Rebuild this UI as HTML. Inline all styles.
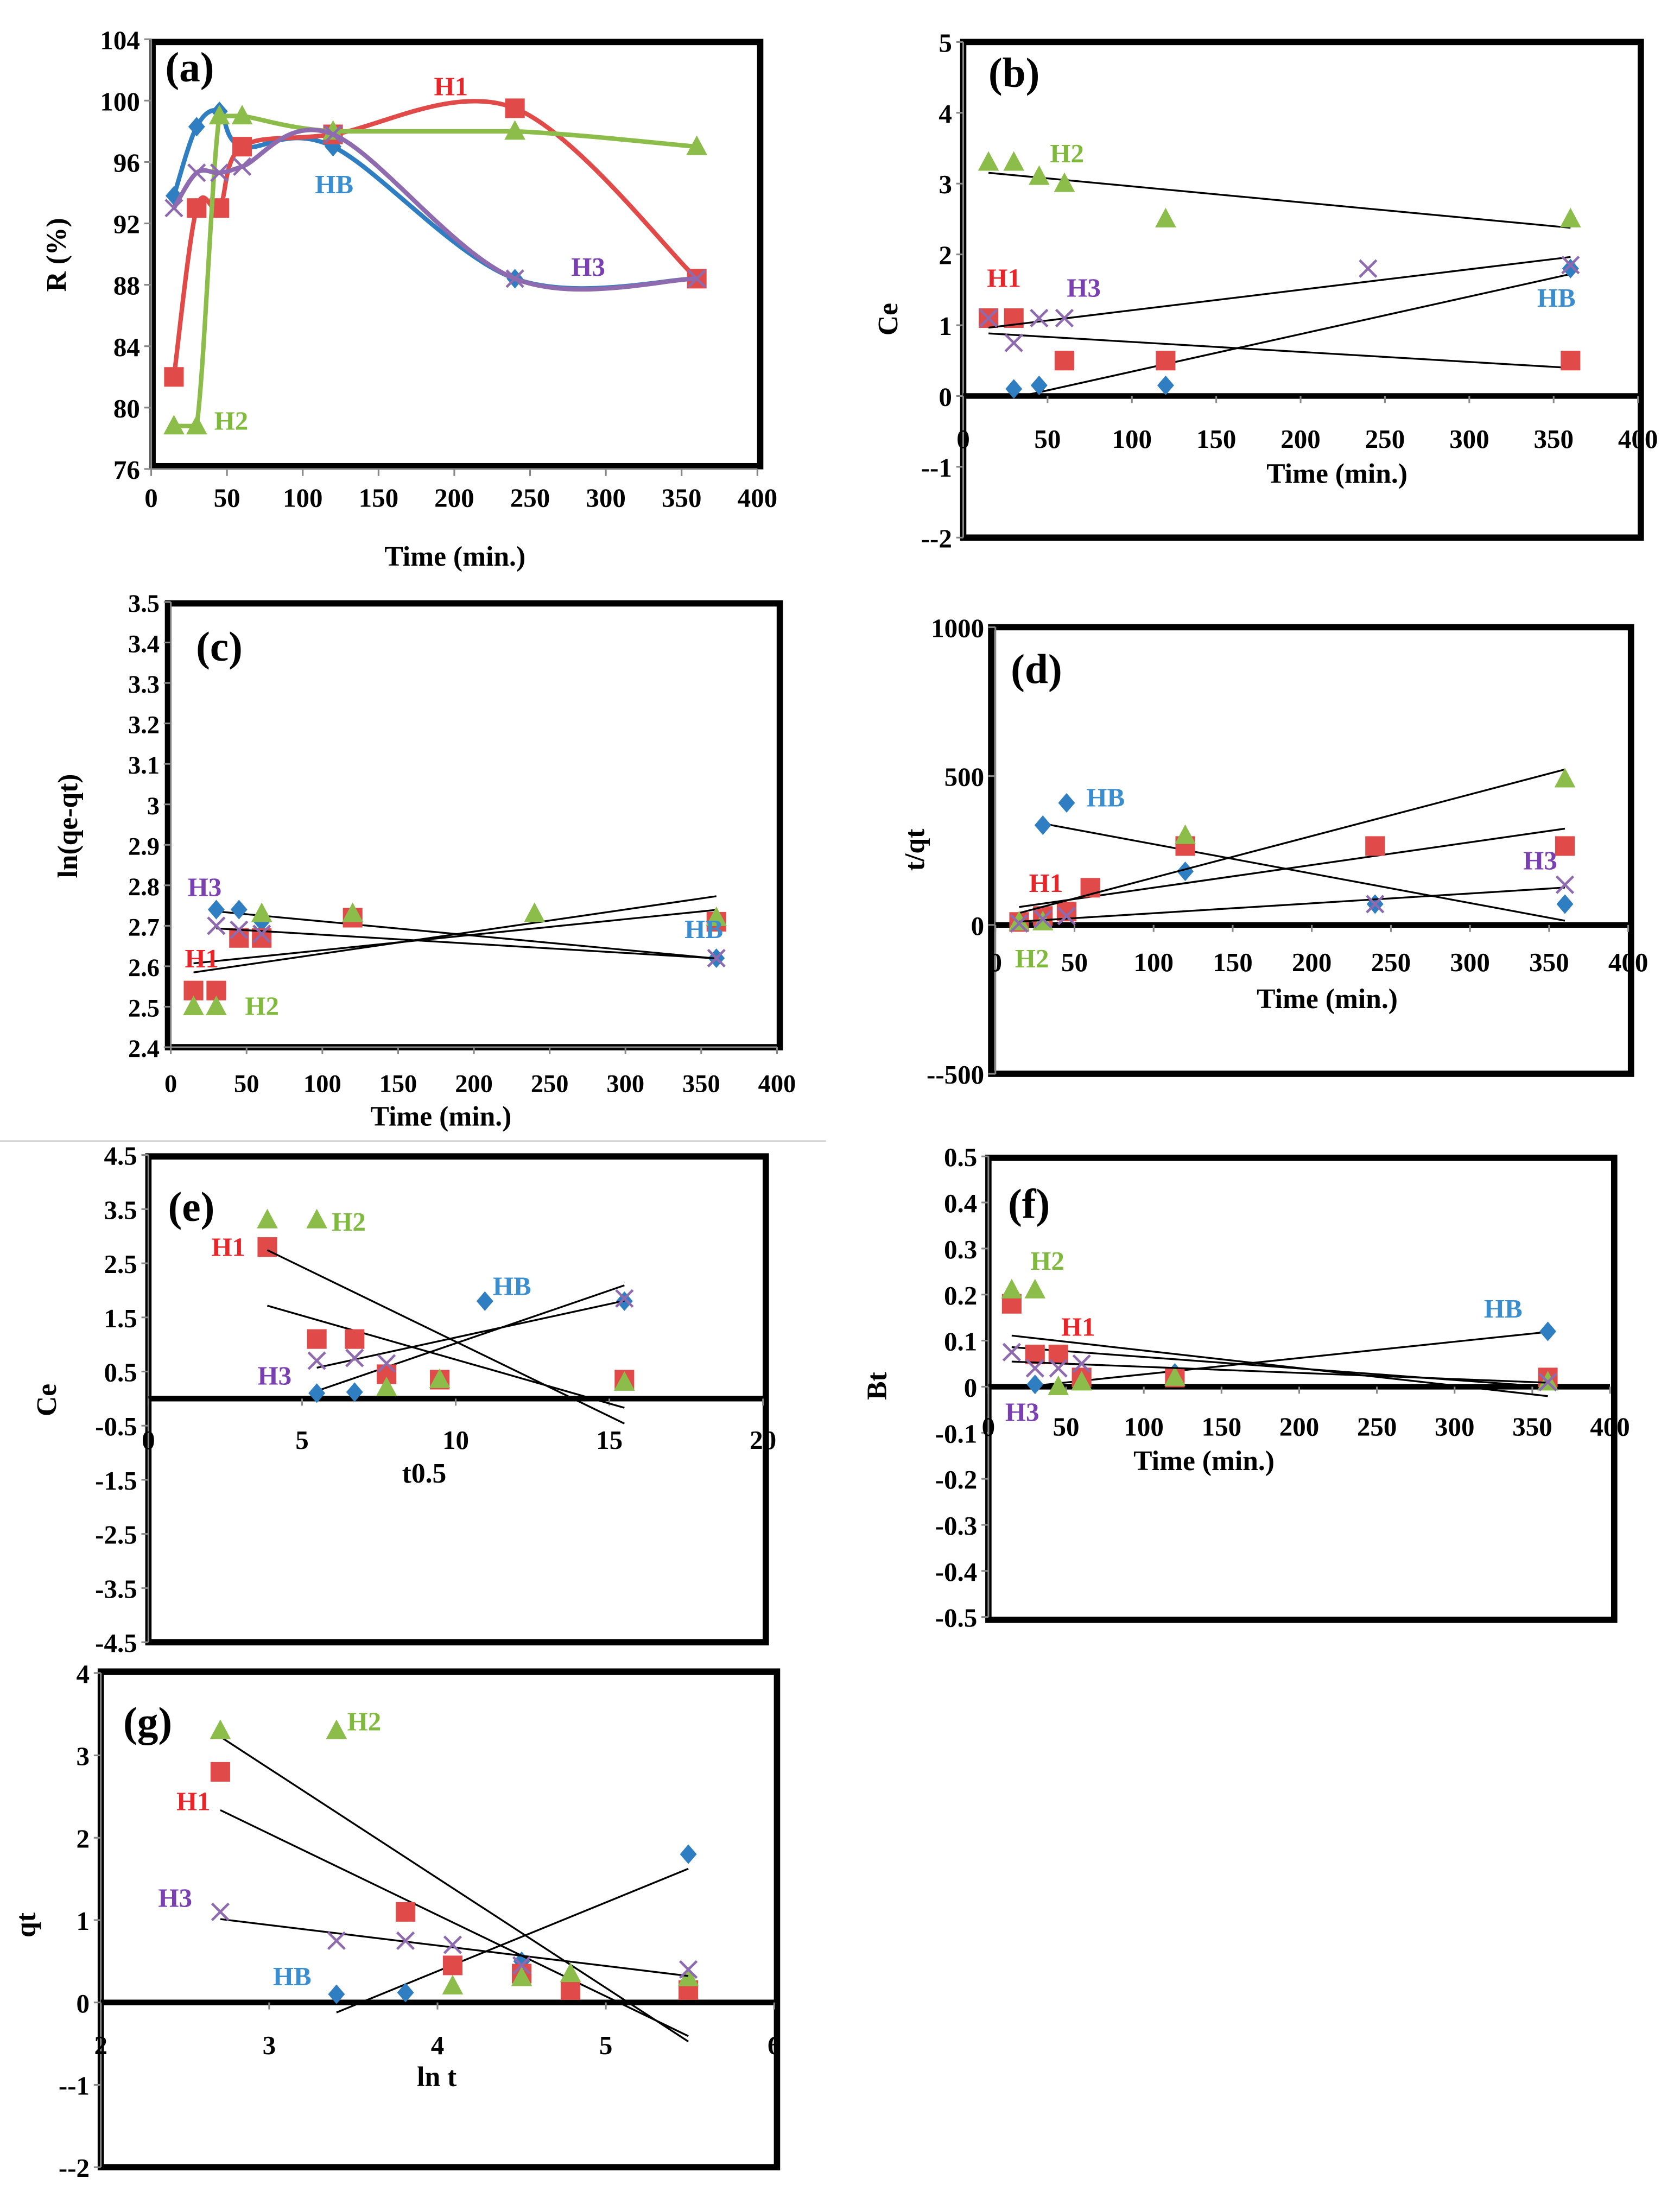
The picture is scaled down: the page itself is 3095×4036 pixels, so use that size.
<!DOCTYPE html>
<html><head><meta charset="utf-8"><style>
html,body{margin:0;padding:0;background:#fff}
svg{display:block}
text{font-family:"Liberation Serif",serif;font-weight:bold}
</style></head><body>
<svg id="s" xmlns="http://www.w3.org/2000/svg" width="3095" height="4036" viewBox="0 0 1200 1565" preserveAspectRatio="none">
<rect width="1200" height="1565" fill="#fff"/>
<line x1="0" y1="815" x2="590" y2="815" stroke="#ccc" stroke-width="1"/>
</svg>
<script>
// ---- data ----
const timeA=[15,30,45,60,120,240,360];
const aHB=[[15,93.8],[30,98.3],[45,99.3],[60,97],[120,97],[240,88.4],[360,88.4]];
const aH1=[[15,82],[30,93],[45,93],[60,97],[120,97.8],[240,99.5],[360,88.4]];
const aH2=[[15,78.8],[30,78.8],[45,99],[60,99],[120,98],[240,98],[360,97]];
const aH3=[[15,93],[30,95.3],[45,95.3],[60,95.7],[120,97.8],[240,88.4],[360,88.4]];
const bH2=[[15,3.3],[30,3.3],[45,3.1],[60,3.0],[120,2.5],[360,2.5]];
const bH1=[[15,1.1],[30,1.1],[60,0.5],[120,0.5],[360,0.5]];
const bHB=[[30,0.1],[45,0.15],[120,0.15],[360,1.8]];
const bH3=[[15,1.1],[30,0.75],[45,1.1],[60,1.1],[240,1.8],[360,1.85]];
const cHB=[[30,2.74],[45,2.74],[60,2.71],[360,2.62]];
const cH3=[[30,2.70],[45,2.69],[60,2.68],[360,2.62]];
const cH1=[[15,2.54],[30,2.54],[45,2.67],[60,2.67],[120,2.72],[360,2.71]];
const cH2=[[15,2.50],[30,2.50],[60,2.73],[120,2.73],[240,2.73],[360,2.72]];
const dHB=[[30,335],[45,410],[120,180],[240,70],[360,70]];
const dH1=[[15,10],[30,30],[45,45],[60,125],[120,265],[240,265],[360,265]];
const dH2=[[15,10],[30,10],[120,300],[360,490]];
const dH3=[[15,5],[30,20],[45,30],[240,70],[360,135]];
const eH2=[[3.87,3.3],[5.48,3.3],[7.75,0.2],[9.48,0.35],[15.49,0.3]];
const eH1=[[3.87,2.8],[5.48,1.1],[6.71,1.1],[7.75,0.45],[9.48,0.35],[15.49,0.35]];
const eHB=[[5.48,0.1],[6.71,0.12],[10.95,1.8],[15.49,1.8]];
const eH3=[[5.48,0.7],[6.71,0.75],[7.75,0.65],[15.49,1.85]];
const fH2=[[15,0.21],[30,0.21],[45,0.0],[60,0.01],[120,0.02],[360,0.01]];
const fH1=[[15,0.18],[30,0.07],[45,0.07],[60,0.02],[120,0.02],[360,0.02]];
const fHB=[[30,0.005],[120,0.03],[360,0.12]];
const fH3=[[15,0.075],[30,0.04],[45,0.04],[60,0.05],[360,0.01]];
const gH2=[[2.71,3.3],[3.4,3.3],[4.09,0.2],[4.5,0.3],[4.79,0.35],[5.49,0.3]];
const gH1=[[2.71,2.8],[3.81,1.1],[4.09,0.45],[4.5,0.35],[4.79,0.15],[5.49,0.15]];
const gHB=[[3.4,0.1],[3.81,0.12],[4.5,0.5],[5.49,1.8]];
const gH3=[[2.71,1.1],[3.4,0.75],[3.81,0.75],[4.09,0.7],[4.5,0.45],[5.49,0.4]];

const C={HB:'#2f7ec1',H1:'#e04a48',H2:'#8cbd4a',H3:'#8e6aaf'};
const L={HB:'#3a8ed0',H1:'#e8262a',H2:'#7fba3c',H3:'#7a3fb0'};
const S=document.getElementById('s');
const NS='http://www.w3.org/2000/svg';
function mk(tag,at,parent){const e=document.createElementNS(NS,tag);for(const k in at)e.setAttribute(k,at[k]);(parent||S).appendChild(e);return e;}
function txt(x,y,s,size,fill,anchor,rot){const t=mk('text',{x:x,y:y,'font-size':size,fill:fill||'#000','text-anchor':anchor||'middle'});if(rot)t.setAttribute('transform','rotate(-90 '+x+' '+y+')');t.textContent=s;return t;}
function marker(g,x,y,k){
  let e;
  if(k==='HB'){e=mk('polygon',{points:`${x},${y-7} ${x+6},${y} ${x},${y+7} ${x-6},${y}`,fill:C.HB},g);}
  else if(k==='H1'){e=mk('rect',{x:x-7,y:y-7,width:14,height:14,fill:C.H1},g);}
  else if(k==='H2'){e=mk('polygon',{points:`${x},${y-8} ${x+7.5},${y+6} ${x-7.5},${y+6}`,fill:C.H2},g);}
  else {e=mk('path',{d:`M${x-6} ${y-6}L${x+6} ${y+6}M${x+6} ${y-6}L${x-6} ${y+6}`,stroke:C.H3,'stroke-width':1.8,fill:'none'},g);}
  
  
}
function reg(d){const n=d.length;let sx=0,sy=0,sxx=0,sxy=0;d.forEach(p=>{sx+=p[0];sy+=p[1];sxx+=p[0]*p[0];sxy+=p[0]*p[1];});const b=(n*sxy-sx*sy)/(n*sxx-sx*sx);return [b,(sy-b*sx)/n];}
function smooth(pts,clamp){let d=`M${pts[0][0]} ${pts[0][1]}`;for(let i=0;i<pts.length-1;i++){const p0=pts[i-1]||pts[i],p1=pts[i],p2=pts[i+1],p3=pts[i+2]||p2;let c1=[p1[0]+(p2[0]-p0[0])/6,p1[1]+(p2[1]-p0[1])/6],c2=[p2[0]-(p3[0]-p1[0])/6,p2[1]-(p3[1]-p1[1])/6];
  if(clamp){const lo=Math.min(p1[1],p2[1]),hi=Math.max(p1[1],p2[1]);c1[1]=Math.max(lo,Math.min(hi,c1[1]));c2[1]=Math.max(lo,Math.min(hi,c2[1]));}
  d+=`C${c1[0]} ${c1[1]} ${c2[0]} ${c2[1]} ${p2[0]} ${p2[1]}`;}return d;}

function panel(o){
  const g=mk('g',{});
  
  
  const X=v=>o.x0+(v-o.xmin)/(o.xmax-o.xmin)*(o.x1-o.x0);
  const Y=v=>o.y1-(v-o.ymin)/(o.ymax-o.ymin)*(o.y1-o.y0);
  const fr=mk('rect',{x:o.fx0,y:o.fy0,width:o.fx1-o.fx0,height:o.fy1-o.fy0,fill:'none',stroke:'#000','stroke-width':4.5},g);
  
  mk('line',{x1:o.x0,y1:o.y0,x2:o.x0,y2:o.y1,stroke:'#888','stroke-width':1.2},g);
  o.yt.forEach(v=>{mk('line',{x1:o.x0-5,y1:Y(v),x2:o.x0,y2:Y(v),stroke:'#888','stroke-width':1.2},g);
    const t=txt(o.x0-8,Y(v)+7,o.yfmt?o.yfmt(v):String(v),o.fs||19,'#000','end',false);g.appendChild(t);});
  const ay=o.axisAt0?Y(0):o.y1;
  mk('line',{x1:o.x0,y1:ay,x2:o.x1,y2:ay,stroke:o.axisAt0?'#000':'#888','stroke-width':o.axisAt0?4:1.2},g);
  o.xt.forEach(v=>{mk('line',{x1:X(v),y1:ay,x2:X(v),y2:ay+5,stroke:'#888','stroke-width':1.2},g);
    const t=txt(X(v),ay+o.xlo,String(v),o.fs||19,'#000','middle',false);g.appendChild(t);});
  const xt=txt(o.xtx,o.xty,o.xtitle,20,'#000','middle');g.appendChild(xt);
  const yt=txt(o.ytx,o.yty,o.ytitle,20,'#000','middle',true);g.appendChild(yt);
  const pl=txt(o.plx,o.ply,o.label,30,'#000','start');g.appendChild(pl);
  ['HB','H1','H2','H3'].forEach(k=>{
    const d=o.data[k];
    if(o.curve){const p=mk('path',{d:smooth(d.map(q=>[X(q[0]),Y(q[1])]),k==='H2'),stroke:C[k],'stroke-width':3.2,fill:'none'},g);}
    else {const [b,a]=reg(d);const xa=d[0][0],xb=d[d.length-1][0];const l=mk('line',{x1:X(xa),y1:Y(a+b*xa),x2:X(xb),y2:Y(a+b*xb),stroke:'#000','stroke-width':1.3},g);}
    d.forEach(q=>marker(g,X(q[0]),Y(q[1]),k));
  });
  o.sl.forEach(s=>{const t=txt(s[1],s[2],s[0],19,L[s[0]],'start');g.appendChild(t);});
}
const rng=(a,b,s)=>{const r=[];for(let v=a;v<=b+1e-9;v+=s)r.push(+v.toFixed(2));return r;};

panel({id:'a',fx0:109,fy0:30,fx1:543,fy1:333,x0:108,x1:541,y0:28,y1:335,xmin:0,xmax:400,ymin:76,ymax:104,yt:rng(76,104,4),xt:rng(0,400,50),xlo:27,xtitle:'Time (min.)',xtx:325,xty:404,ytitle:'R (%)',ytx:47,yty:182,label:'(a)',plx:118,ply:58,curve:true,data:{HB:aHB,H1:aH1,H2:aH2,H3:aH3},sl:[['H1',310,68],['HB',225,138],['H3',408,197],['H2',153,307]]});
panel({id:'b',fx0:688,fy0:30,fx1:1172,fy1:384,x0:688,x1:1170,y0:30,y1:384,xmin:0,xmax:400,ymin:-2,ymax:5,yt:rng(-2,5,1),yfmt:v=>v<0?'-'+v:String(v),xt:rng(0,400,50),xlo:37,axisAt0:true,xtitle:'Time (min.)',xtx:955,xty:345,ytitle:'Ce',ytx:641,yty:228,label:'(b)',plx:706,ply:62,data:{HB:bHB,H1:bH1,H2:bH2,H3:bH3},sl:[['H2',750,116],['H1',705,205],['H3',762,212],['HB',1098,219]]});
panel({id:'c',fx0:120,fy0:431,fx1:557,fy1:748,x0:122,x1:555,y0:430,y1:748,xmin:0,xmax:400,ymin:2.4,ymax:3.5,yt:rng(2.4,3.5,0.1),yfmt:v=>(Math.abs(v-3)<1e-9?'3':v.toFixed(1)),xt:rng(0,400,50),xlo:32,xtitle:'Time (min.)',xtx:315,xty:804,ytitle:'ln(qe-qt)',ytx:55,yty:590,label:'(c)',plx:140,ply:472,fs:18,data:{HB:cHB,H1:cH1,H2:cH2,H3:cH3},sl:[['H3',134,640],['H1',132,691],['H2',175,725],['HB',489,670]]});
panel({id:'d',fx0:708,fy0:448,fx1:1165,fy1:767,x0:711,x1:1163,y0:448,y1:767,xmin:0,xmax:400,ymin:-500,ymax:1000,yt:[-500,0,500,1000],yfmt:v=>v<0?'-'+v:String(v),xt:rng(0,400,50),xlo:33,axisAt0:true,xtitle:'Time (min.)',xtx:948,xty:720,ytitle:'t/qt',ytx:660,yty:607,label:'(d)',plx:722,ply:488,data:{HB:dHB,H1:dH1,H2:dH2,H3:dH3},sl:[['HB',776,576],['H1',735,637],['H3',1088,621],['H2',725,691]]});
panel({id:'e',fx0:106,fy0:826,fx1:547,fy1:1173,x0:106,x1:545,y0:825,y1:1173,xmin:0,xmax:20,ymin:-4.5,ymax:4.5,yt:rng(-4.5,4.5,1),yfmt:v=>v<0?'-'+(-v):String(v),xt:[0,5,10,15,20],xlo:36,axisAt0:true,xtitle:'t0.5',xtx:303,xty:1059,ytitle:'Ce',ytx:40,yty:1000,label:'(e)',plx:120,ply:872,data:{HB:eHB,H1:eH1,H2:eH2,H3:eH3},sl:[['H1',151,897],['H2',237,879],['HB',352,925],['H3',184,989]]});
panel({id:'f',fx0:706,fy0:827,fx1:1153,fy1:1157,x0:706,x1:1150,y0:826,y1:1155,xmin:0,xmax:400,ymin:-0.5,ymax:0.5,yt:rng(-0.5,0.5,0.1),yfmt:v=>(Math.abs(v)<1e-9?'0':(v<0?'-'+(-v).toFixed(1):v.toFixed(1))),xt:rng(0,400,50),xlo:35,axisAt0:true,xtitle:'Time (min.)',xtx:860,xty:1050,ytitle:'Bt',ytx:633,yty:990,label:'(f)',plx:720,ply:870,data:{HB:fHB,H1:fH1,H2:fH2,H3:fH3},sl:[['H2',736,907],['H1',758,954],['HB',1060,941],['H3',718,1015]]});
panel({id:'g',fx0:72,fy0:1194,fx1:555,fy1:1548,x0:72,x1:553,y0:1195,y1:1548,xmin:2,xmax:6,ymin:-2,ymax:4,yt:rng(-2,4,1),yfmt:v=>v<0?'-'+v:String(v),xt:[2,3,4,5,6],xlo:37,axisAt0:true,xtitle:'ln t',xtx:312,xty:1490,ytitle:'qt',ytx:25,yty:1375,label:'(g)',plx:88,ply:1240,data:{HB:gHB,H1:gH1,H2:gH2,H3:gH3},sl:[['H2',248,1236],['H1',126,1293],['H3',113,1362],['HB',195,1418]]});
</script>
</body></html>
